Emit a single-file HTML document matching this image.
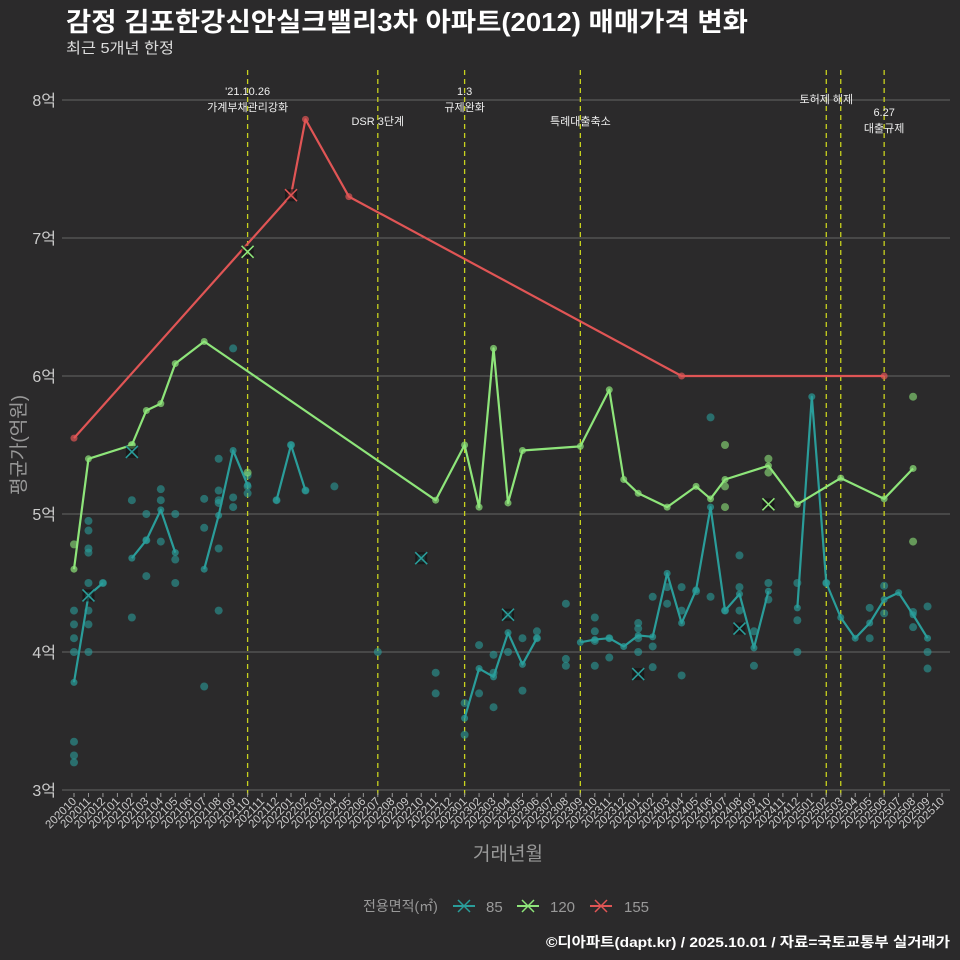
<!DOCTYPE html>
<html><head><meta charset="utf-8"><style>
html,body{margin:0;padding:0;background:#2b2a2b;}
svg{display:block;font-family:"Liberation Sans","Noto Sans CJK KR",sans-serif;}
</style></head><body>
<svg id="c" width="960" height="960" xmlns="http://www.w3.org/2000/svg">
<rect width="960" height="960" fill="#2b2a2b"/>
<text x="66" y="31" fill="#fff" font-size="26" font-weight="bold" textLength="682" lengthAdjust="spacingAndGlyphs">감정 김포한강신안실크밸리3차 아파트(2012) 매매가격 변화</text>
<text x="66" y="53" fill="#ddd" font-size="15" textLength="108" lengthAdjust="spacingAndGlyphs">최근 5개년 한정</text>
<g id="grid"></g>
<g id="vlines"></g>
<g id="dots"></g>
<g id="lines"></g>
<g id="xaxis"></g>
<text x="508" y="860" fill="#999" font-size="19" text-anchor="middle">거래년월</text>
<text transform="translate(25,445) rotate(-90)" fill="#999" font-size="19" text-anchor="middle">평균가(억원)</text>
<g>
<text x="363" y="911" fill="#999" font-size="14">전용면적(㎡)</text>
<g><line x1="453" y1="906" x2="475" y2="906" stroke="#2a9d9a" stroke-width="2"/><path d="M458,900 l12,12 M470,900 l-12,12" stroke="#2a9d9a" stroke-width="1.5"/><text x="486" y="912" fill="#999" font-size="15">85</text></g>
<g><line x1="517" y1="906" x2="539" y2="906" stroke="#8ee57a" stroke-width="2"/><path d="M522,900 l12,12 M534,900 l-12,12" stroke="#8ee57a" stroke-width="1.5"/><text x="550" y="912" fill="#999" font-size="15">120</text></g>
<g><line x1="590" y1="906" x2="612" y2="906" stroke="#e05555" stroke-width="2"/><path d="M595,900 l12,12 M607,900 l-12,12" stroke="#e05555" stroke-width="1.5"/><text x="624" y="912" fill="#999" font-size="15">155</text></g>
</g>
<text x="950" y="947" fill="#fff" font-size="14" font-weight="bold" text-anchor="end" textLength="404" lengthAdjust="spacingAndGlyphs">©디아파트(dapt.kr) / 2025.10.01 / 자료=국토교통부 실거래가</text>
</svg>
<script>
const yTicks=[3,4,5,6,7,8];
const yTickLabels=["3억","4억","5억","6억","7억","8억"];
const months=[];
for(let y=2020;y<=2025;y++)for(let m=1;m<=12;m++){const k=y*100+m;if(k>=202010&&k<=202510)months.push(String(k));}
const events=["202110","202207","202301","202309","202502","202503","202506"];
const eventLabels=[["'21.10.26","가계부채관리강화"],["DSR 3단계"],["1.3","규제완화"],["특례대출축소"],["토허제 해제"],[],["6.27","대출규제"]];
const eventLabelY=[91,121,91,121,99,0,112];
const s85=[3.78,4.41,4.5,null,4.68,4.81,5.03,4.72,null,4.6,4.99,5.46,5.21,null,5.1,5.5,5.17,null,null,null,null,null,null,null,null,null,null,3.52,3.88,3.82,4.14,3.91,4.1,null,null,4.07,4.09,4.1,4.04,4.12,4.11,4.57,4.21,4.45,5.05,4.3,4.42,4.03,4.44,null,4.32,5.85,4.5,4.25,4.1,4.21,4.38,4.43,4.27,4.1,null];
const s120=[[0,4.6],[1,5.4],[4,5.5],[5,5.75],[6,5.8],[7,6.09],[9,6.25],[25,5.1],[27,5.5],[28,5.05],[29,6.2],[30,5.08],[31,5.46],[35,5.49],[37,5.9],[38,5.25],[39,5.15],[41,5.05],[43,5.2],[44,5.11],[45,5.25],[48,5.35],[50,5.07],[53,5.26],[56,5.11],[58,5.33]];
const s155=[[0,5.55],[15,7.31],[16,7.86],[19,7.3],[42,6.0],[56,6.0]];
const dots85=[[0,3.35],[0,3.25],[0,3.2],[0,4.0],[0,4.1],[0,4.2],[0,4.3],[1,4.95],[1,4.88],[1,4.75],[1,4.72],[1,4.5],[1,4.3],[1,4.2],[1,4.0],[2,4.5],[4,5.1],[4,4.25],[5,5.0],[5,4.81],[5,4.55],[6,5.18],[6,5.1],[6,4.8],[7,5.0],[7,4.67],[7,4.5],[9,5.11],[9,4.9],[9,3.75],[10,5.4],[10,5.17],[10,5.1],[10,5.08],[10,4.75],[10,4.3],[11,5.12],[11,5.05],[11,6.2],[12,5.28],[12,5.2],[12,5.15],[14,5.1],[15,5.5],[16,5.17],[18,5.2],[21,4.0],[24,4.68],[25,3.85],[25,3.7],[27,3.63],[27,3.4],[28,4.05],[28,3.7],[29,3.98],[29,3.85],[29,3.6],[30,4.0],[30,4.27],[31,4.1],[31,3.72],[32,4.15],[32,4.1],[34,4.35],[34,3.95],[34,3.9],[36,4.25],[36,4.15],[36,4.08],[36,3.9],[37,4.1],[37,3.96],[39,4.21],[39,4.17],[39,4.1],[39,4.0],[40,4.04],[40,3.89],[40,4.4],[41,4.47],[41,4.35],[42,4.47],[42,4.3],[42,3.83],[43,4.44],[44,5.7],[44,4.4],[45,4.3],[46,4.7],[46,4.47],[46,4.3],[47,4.15],[47,3.9],[48,4.5],[48,4.38],[50,4.5],[50,4.23],[50,4.0],[52,4.5],[55,4.1],[55,4.32],[56,4.48],[56,4.28],[58,4.29],[58,4.18],[59,4.33],[59,4.0],[59,3.88]];
const dots120=[[0,4.78],[4,5.5],[12,5.3],[45,5.5],[45,5.2],[45,5.05],[48,5.4],[48,5.3],[58,5.85],[58,4.8]];
const cross85=[[1,4.41],[4,5.45],[24,4.68],[30,4.27],[39,3.84],[46,4.17]];
const cross120=[[12,6.9],[48,5.07]];
const cross155=[[15,7.31]];

const NS="http://www.w3.org/2000/svg";
const X=i=>74+i*14.467, Y=v=>790-(v-3)*138;
function mk(tag,attrs,parent){const e=document.createElementNS(NS,tag);for(const k in attrs)e.setAttribute(k,attrs[k]);document.getElementById(parent).appendChild(e);return e;}
yTicks.forEach((t,i)=>{
 const l=mk('line',{x1:62,x2:950,y1:Y(t),y2:Y(t),stroke:'#666','stroke-width':1},'grid');
 
 
 const tx=mk('text',{x:56,y:Y(t)+6,fill:'#ccc','font-size':16,'text-anchor':'end'},'grid');
 tx.textContent=yTickLabels[i];
 
 
});
months.forEach((m,i)=>{
 const tk=mk('line',{x1:X(i),x2:X(i),y1:793,y2:797,stroke:'#999'},'xaxis');
 
 
 const t=mk('text',{x:X(i)+3,y:802,fill:'#ccc','font-size':11.5,'text-anchor':'end',transform:`rotate(-45 ${X(i)+3} 802)`},'xaxis');
 t.textContent=m;
 
 
});
events.forEach((ev,k)=>{
 const i=months.indexOf(ev);
 const l=mk('line',{x1:X(i),x2:X(i),y1:70,y2:797,stroke:'#c8d21e','stroke-width':1.3,'stroke-dasharray':'5,4'},'vlines');
 
 
 eventLabels[k].forEach((s,j)=>{
  const t=mk('text',{x:X(i),y:eventLabelY[k]+j*16+4,fill:'#eee','font-size':11,'text-anchor':'middle'},'vlines');
  t.textContent=s;
  
  
 });
});
const C85='#2a9d9a',C120='#8ee57a',C155='#e05555';
function dotset(arr,col,op){arr.forEach(d=>{const c=mk('circle',{cx:X(d[0]),cy:Y(d[1]),r:4,fill:col,opacity:op},'dots');
 
 });}
dotset(dots85,C85,0.6);dotset(dots120,C120,0.6);
let seg=[];const segs=[];
s85.forEach((v,i)=>{if(v==null){if(seg.length)segs.push(seg);seg=[];}else seg.push([i,v]);});
if(seg.length)segs.push(seg);
function line(pts,col,name){
 const p=mk('polyline',{points:pts.map(d=>X(d[0])+','+Y(d[1])).join(' '),fill:'none',stroke:col,'stroke-width':2.2,'stroke-linejoin':'round'},'lines');
 
 
 pts.forEach(d=>{const c=mk('circle',{cx:X(d[0]),cy:Y(d[1]),r:3.5,fill:col,opacity:0.7},'lines');
  
  });
}
segs.forEach(sg=>line(sg,C85,'line-85'));
line(s120,C120,'line-120');
line(s155,C155,'line-155');
function crosses(arr,col){arr.forEach(d=>{const x=X(d[0]),y=Y(d[1]);
 const r=mk('rect',{x:x-6,y:y-6,width:12,height:12,fill:'#111',opacity:0.6},'lines');
 
 
 const p=mk('path',{d:`M${x-6},${y-6}L${x+6},${y+6}M${x+6},${y-6}L${x-6},${y+6}`,stroke:col,'stroke-width':1.6},'lines');
 
 });}
crosses(cross85,C85);crosses(cross120,C120);crosses(cross155,C155);
</script>
</body></html>
